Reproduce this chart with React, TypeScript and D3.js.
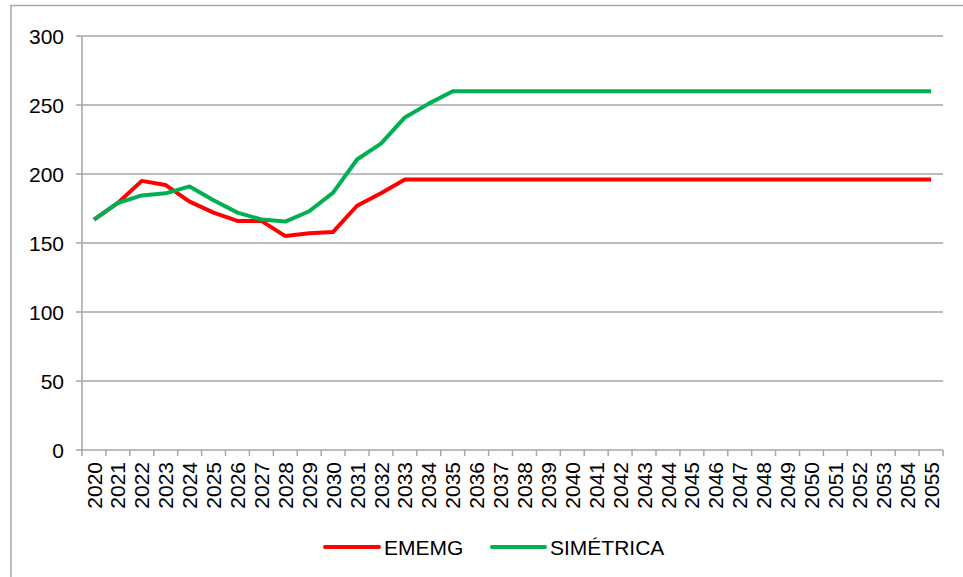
import React from "react";
import * as d3 from "d3";

const years: string[] = [
  "2020", "2021", "2022", "2023", "2024", "2025", "2026", "2027", "2028",
  "2029", "2030", "2031", "2032", "2033", "2034", "2035", "2036", "2037",
  "2038", "2039", "2040", "2041", "2042", "2043", "2044", "2045", "2046",
  "2047", "2048", "2049", "2050", "2051", "2052", "2053", "2054", "2055",
];

const ememg: number[] = [
  167, 179, 195, 192, 180, 172, 166, 166, 155, 157, 158, 177, 186, 196,
  196, 196, 196, 196, 196, 196, 196, 196, 196, 196, 196, 196, 196, 196,
  196, 196, 196, 196, 196, 196, 196, 196,
];

const simetrica: number[] = [
  167, 179, 184.5, 186, 191, 181, 172, 167, 165.5, 173, 186.5, 210.5, 222,
  241, 251, 260, 260, 260, 260, 260, 260, 260, 260, 260, 260, 260, 260, 260,
  260, 260, 260, 260, 260, 260, 260, 260,
];

const yTicks: number[] = [0, 50, 100, 150, 200, 250, 300];

const seriesNames: string[] = ["EMEMG", "SIMÉTRICA"];
const seriesColors: string[] = ["#ff0000", "#00b050"];

const W = 963;
const H = 577;
const left = 82;
const right = 943;
const top = 36;
const bottom = 450;
const font = "'Liberation Sans', Arial, sans-serif";
const gridColor = "#a6a6a6";

export default function App() {
  const x = d3.scaleBand<string>().domain(years).range([left, right]);
  const y = d3.scaleLinear().domain([0, 300]).range([bottom, top]);
  const cx = (yr: string) => (x(yr) as number) + x.bandwidth() / 2;

  const line = d3
    .line<number>()
    .x((_, i) => cx(years[i]))
    .y((v) => y(v));

  const series = [ememg, simetrica];
  const boundaries = years.map((yr) => x(yr) as number).concat([right]);

  const legendItems = [
    { x0: 325, x1: 379, tx: 384 },
    { x0: 492, x1: 545, tx: 550 },
  ];

  return (
    <svg
      width={W}
      height={H}
      style={{ position: "absolute", left: 0, top: 0, background: "#fff" }}
    >
      <rect x={0} y={0} width={W} height={H} fill="#fff" />
      {/* chart frame */}
      <rect
        x={11}
        y={5.5}
        width={1200}
        height={1200}
        fill="none"
        stroke={gridColor}
        strokeWidth={1.5}
      />
      {/* horizontal gridlines and y labels */}
      {yTicks.map((t) => (
        <g key={t}>
          <line
            x1={left - 6}
            x2={t === 0 ? right : right}
            y1={y(t)}
            y2={y(t)}
            stroke={gridColor}
            strokeWidth={1.5}
          />
          <text
            x={64}
            y={y(t)}
            dy="0.36em"
            textAnchor="end"
            fontFamily={font}
            fontSize={21}
            fill="#000"
          >
            {t}
          </text>
        </g>
      ))}
      {/* y axis */}
      <line x1={left} x2={left} y1={top} y2={bottom} stroke={gridColor} strokeWidth={1.5} />
      {/* x axis ticks */}
      {boundaries.map((bx, i) => (
        <line
          key={i}
          x1={bx}
          x2={bx}
          y1={bottom}
          y2={bottom + 6}
          stroke={gridColor}
          strokeWidth={1.5}
        />
      ))}
      {/* x labels */}
      {years.map((yr) => (
        <text
          key={yr}
          transform={`translate(${cx(yr)},${bottom + 12}) rotate(-90)`}
          dy="0.36em"
          textAnchor="end"
          fontFamily={font}
          fontSize={21}
          fill="#000"
        >
          {yr}
        </text>
      ))}
      {/* series */}
      {series.map((s, i) => (
        <path
          key={seriesNames[i]}
          d={line(s) as string}
          fill="none"
          stroke={seriesColors[i]}
          strokeWidth={4}
          strokeLinejoin="round"
        />
      ))}
      {/* legend */}
      {legendItems.map((it, i) => (
        <g key={seriesNames[i]}>
          <line
            x1={it.x0}
            x2={it.x1}
            y1={547}
            y2={547}
            stroke={seriesColors[i]}
            strokeWidth={4}
            strokeLinecap="round"
          />
          <text
            x={it.tx}
            y={547}
            dy="0.36em"
            fontFamily={font}
            fontSize={21}
            fill="#000"
          >
            {seriesNames[i]}
          </text>
        </g>
      ))}
    </svg>
  );
}
